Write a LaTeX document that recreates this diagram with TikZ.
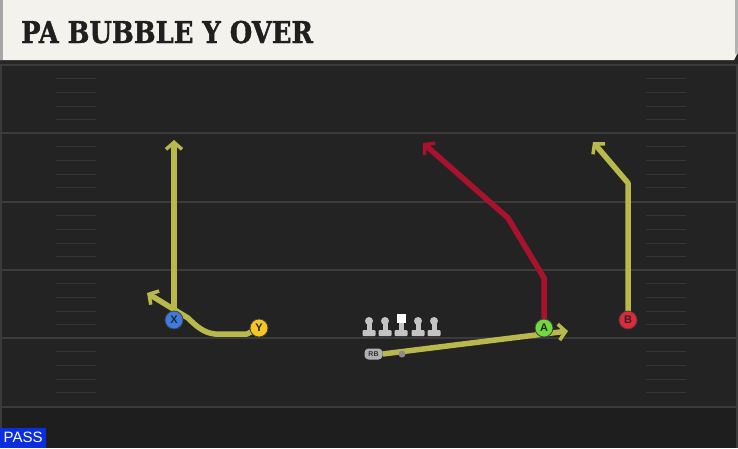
\documentclass[tikz,border=0pt]{standalone}
\usepackage{fontspec}
\setmainfont{DejaVu Serif}
\setsansfont{Liberation Sans}
\newfontfamily\titlefont[FakeStretch=0.86,FakeBold=1.2]{DejaVu Serif}
\usetikzlibrary{arrows.meta,backgrounds}

\definecolor{fieldbg}{HTML}{232323}
\definecolor{fielddark}{HTML}{1E1E1E}
\definecolor{banner}{HTML}{F4F2EC}
\definecolor{yardgray}{HTML}{3B3B3B}
\definecolor{hashgray}{HTML}{353535}
\definecolor{routeyellow}{HTML}{B8B84C}
\definecolor{routered}{HTML}{A8122C}
\definecolor{xblue}{HTML}{3D7BE0}
\definecolor{yyellow}{HTML}{F6C623}
\definecolor{agreen}{HTML}{70D93C}
\definecolor{bred}{HTML}{E3283C}
\definecolor{linegray}{HTML}{C4C4C4}
\definecolor{passblue}{HTML}{0B2EE0}

\begin{document}
\begin{tikzpicture}[x=1pt, y=-1pt, >={Straight Barb[length=7pt,width=16pt,line width=3.5pt]},
  route/.style={draw=routeyellow, line width=5.5pt, line join=round, ->},
  hotroute/.style={route, draw=routered},
  player/.style={circle, draw=black!75, line width=0.8pt, minimum size=18pt, inner sep=0pt,
    font=\sffamily\bfseries\fontsize{11}{11}\selectfont, text=black!85},
  lineman/.style={fill=linegray},
  yardline/.style={draw=yardgray, line width=2pt},
  hashmark/.style={draw=hashgray, line width=1pt}]
\useasboundingbox (0,0) rectangle (738,448);

\begin{scope}[on background layer]
  % field
  \fill [fieldbg] (0,0) rectangle (738,448);
  \fill [fielddark] (0,407) rectangle (738,448);
  \fill [black!85] (0,58) rectangle (738,64);
  \draw [yardgray, line width=1.5pt] (1,64) -- (1,448);
  \draw [yardgray, line width=1.5pt] (737,64) -- (737,448);
  \foreach \y in {65,133,202,270,338,407}
    \draw [yardline] (0,\y) -- (738,\y);
  \foreach \y in {65,133,202,270,338}
    \foreach \k in {1,...,4} {
      \draw [hashmark] (56,\y+\k*13.7) -- (96,\y+\k*13.7);
      \draw [hashmark] (646,\y+\k*13.7) -- (686,\y+\k*13.7);
    }
  % banner
  \fill [banner] (0,0) -- (738,0) -- (738,52) -- (734,60) -- (0,60) -- cycle;
  \fill [black!35] (0,0) rectangle (2.5,60);
  \fill [black!30] (735,0) rectangle (738,54);
\end{scope}

\node [anchor=base west, inner sep=0pt, text=black!88,
  font=\titlefont\bfseries\fontsize{30}{30}\selectfont]
  (title) at (21,43) {PA BUBBLE Y OVER};

% line
\foreach \x in {369,385,418,434} {
  \fill [lineman, rounded corners=1pt] (\x-6.5,330) rectangle (\x+6.5,336);
  \fill [lineman] (\x-2.5,321) rectangle (\x+2.5,332);
  \fill [lineman] (\x,321) circle (4);
}
\fill [lineman, rounded corners=1pt] (394.5,330) rectangle (407.5,336);
\fill [lineman] (398.5,321) rectangle (403.5,332);
\fill [white] (396.5,313.5) rectangle (405.5,322.5);

% players
\node [player, fill=xblue] (X) at (174,320) {X};
\node [player, fill=yyellow] (Y) at (259,328) {Y};
\node [player, fill=agreen] (A) at (544,328) {A};
\node [player, fill=bred] (B) at (628,320) {B};
\node [fill=linegray!90!black, rounded corners=4pt, minimum width=18pt, minimum height=11pt,
  inner sep=0pt, font=\sffamily\bfseries\fontsize{7}{7}\selectfont, text=black!80]
  (RB) at (373.5,354) {RB};
\node [circle, fill=black!45, minimum size=7pt, inner sep=0pt] (mesh) at (402,354) {};

\coordinate (xTip) at (174,140);
\coordinate (y1) at (247,334);
\coordinate (y2) at (215,334);
\coordinate (y3) at (188,318);
\coordinate (yTip) at (147,293);
\coordinate (rbTip) at (568,331);
\coordinate (a1) at (544,278);
\coordinate (a2) at (508,218);
\coordinate (aTip) at (423,143);
\coordinate (b1) at (628,183);
\coordinate (bTip) at (593,142);

\begin{scope}[on background layer]
  \draw [route] (X.center) -- (xTip);
  \draw [route] (Y.center) -- (y1) -- (y2) .. controls (204,333) and (196,326) .. (y3) -- (yTip);
  \draw [route] (RB.east) -- (rbTip);
  \draw [hotroute] (A.center) -- (a1) -- (a2) -- (aTip);
  \draw [route] (B.center) -- (b1) -- (bTip);
\end{scope}

\node [anchor=south west, fill=passblue, text=white, minimum width=46pt, minimum height=20pt,
  inner sep=0pt, font=\sffamily\fontsize{15}{15}\selectfont] (pass) at (0,448) {PASS};
\end{tikzpicture}
\end{document}
